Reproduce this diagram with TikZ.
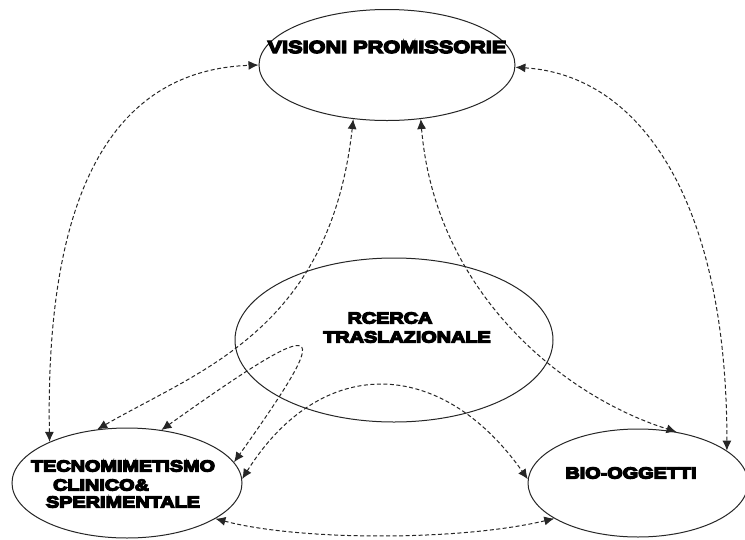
\documentclass[tikz,border=0pt]{standalone}
\usepackage{fontspec}
\usetikzlibrary{shapes.geometric,arrows.meta}
\newfontfamily\heavy{Liberation Sans}[UprightFont={* Bold},FakeStretch=1.24,FakeBold=8]
\begin{document}
\begin{tikzpicture}[x=1pt,y=-1pt,
  bubble/.style={ellipse,draw=black!85,line width=1pt,inner sep=0pt},
  lbl/.style={inner sep=0pt,font=\heavy\fontsize{16}{16}\selectfont,text=black},
  link/.style={draw=black!85,line width=1pt,dash pattern=on 4pt off 2.5pt,
    {Latex[length=10pt,width=9pt]}-{Latex[length=10pt,width=9pt]}}]
\useasboundingbox[fill=white] (0,0) rectangle (745,539);
% ellipses
\node[bubble,minimum width=256pt,minimum height=111pt] (vis) at (387,65) {};
\node[bubble,minimum width=318pt,minimum height=164pt] (rc) at (394,340) {};
\node[bubble,minimum width=230pt,minimum height=110pt] (tec) at (127,483) {};
\node[bubble,minimum width=220pt,minimum height=108pt] (bio) at (638,483) {};
% texts
\node[lbl,font=\heavy\fontsize{17.5}{17.5}\selectfont] (tvis) at (387,47) {VISIONI PROMISSORIE};
\node[lbl] (trc1) at (390,318) {RCERCA};
\node[lbl] (trc2) at (407,337) {TRASLAZIONALE};
\node[lbl] (ttec1) at (123,466) {TECNOMIMETISMO};
\node[lbl] (ttec2) at (101,485) {CLINICO\&};
\node[lbl] (ttec3) at (123,502) {SPERIMENTALE};
\node[lbl] (tbio) at (631,473) {BIO-OGGETTI};
% connectors
\draw[link] (tec.152) .. controls (45,180) and (120,70) .. (vis.180);
\draw[link] (vis.-1) .. controls (640,75) and (727,200) .. (bio.20);
\draw[link] (vis.238) .. controls (330,330) and (200,370) .. (tec.119);
\draw[link] (vis.302) .. controls (435,290) and (560,395) .. (bio.53);
\draw[link] (tec.57) .. controls (330,310) and (335,320) .. (tec.11);
\draw[link] (tec.2) .. controls (320,355) and (440,355) .. (bio.178);
\draw[link] (tec.-22) .. controls (300,541) and (460,541) .. (bio.203);
\end{tikzpicture}
\end{document}
